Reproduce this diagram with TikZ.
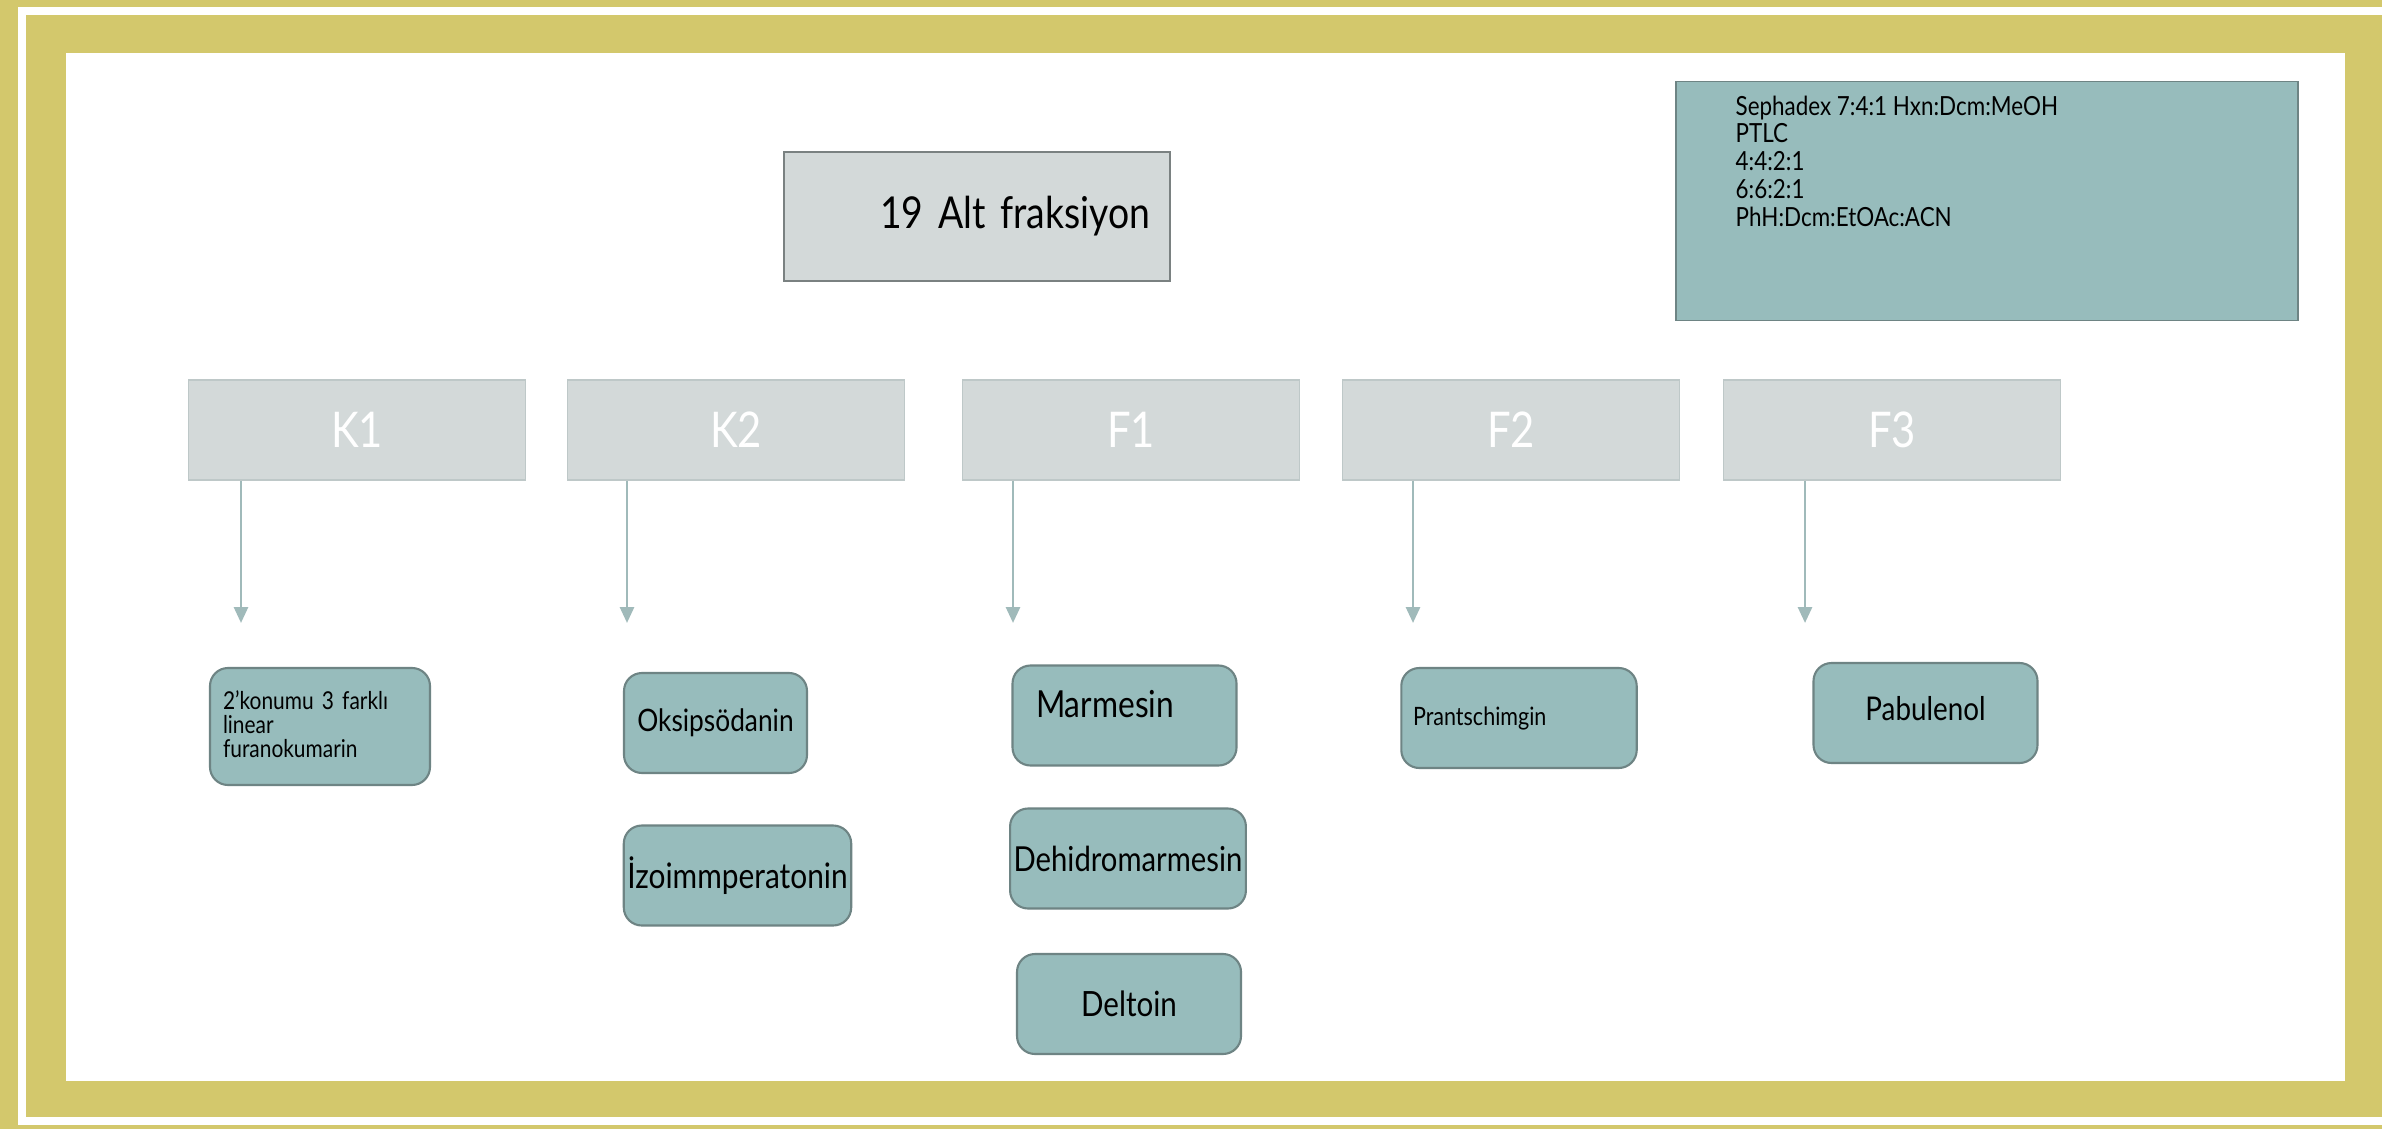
\documentclass[tikz,border=0pt]{standalone}
\usepackage{fontspec}
\setmainfont[FakeStretch=0.85]{Lato}
\usetikzlibrary{arrows.meta}

\definecolor{framecol}{RGB}{211,200,108}
\definecolor{lightbox}{RGB}{211,217,217}
\definecolor{lightline}{RGB}{190,200,200}
\definecolor{tealbox}{RGB}{151,188,188}
\definecolor{tealline}{RGB}{110,132,132}
\definecolor{arrowcol}{RGB}{160,186,186}

\begin{document}
\begin{tikzpicture}[y=-1cm,
  fraction/.style={fill=lightbox, draw=lightline, minimum width=3.37cm, minimum height=1cm,
    text=white, font=\fontsize{14}{16}\selectfont},
  compound/.style={fill=tealbox, draw=tealline, line width=0.6pt, rounded corners=0.18cm,
    minimum width=2.24cm, minimum height=1cm, font=\fontsize{10.6}{12}\selectfont},
  arr/.style={draw=arrowcol, line width=0.8pt, -{Triangle[width=0.14cm,length=0.16cm]}}]

\useasboundingbox (0,0) rectangle (23.82,11.29);
\clip (0,0) rectangle (23.82,11.29);

\fill[framecol] (0,0) rectangle (23.82,11.29);
\draw[white, line width=0.08cm] (0.22,0.11) rectangle (24.5,11.21);
\fill[white] (0.66,0.53) rectangle (23.45,10.81);

\node[fill=lightbox, draw=gray!70!tealline, minimum width=3.86cm, minimum height=1.29cm,
  text width=3.46cm, align=right, font=\fontsize{12.5}{15}\selectfont] (alt) at (9.77,2.165)
  {19 Alt fraksiyon};

\node[fill=tealbox, draw=tealline, minimum width=6.22cm, minimum height=2.39cm] (solvent) at (19.87,2.01) {};
\node[anchor=north west, inner sep=0pt, align=left, font=\fontsize{7.5}{7.9}\selectfont]
  (solventtxt) at (17.35,0.95)
  {Sephadex 7:4:1 Hxn:Dcm:MeOH\\PTLC\\4:4:2:1\\6:6:2:1\\PhH:Dcm:EtOAc:ACN};

\node[fraction] (k1) at (3.57,4.30) {K1};
\node[fraction] (k2) at (7.36,4.30) {K2};
\node[fraction] (f1) at (11.31,4.30) {F1};
\node[fraction] (f2) at (15.11,4.30) {F2};
\node[fraction] (f3) at (18.92,4.30) {F3};

\coordinate (k1tip) at (2.41,6.23);
\coordinate (k2tip) at (6.27,6.23);
\coordinate (f1tip) at (10.13,6.23);
\coordinate (f2tip) at (14.13,6.23);
\coordinate (f3tip) at (18.05,6.23);

\draw[arr] (k1.south -| k1tip) -- (k1tip);
\draw[arr] (k2.south -| k2tip) -- (k2tip);
\draw[arr] (f1.south -| f1tip) -- (f1tip);
\draw[arr] (f2.south -| f2tip) -- (f2tip);
\draw[arr] (f3.south -| f3tip) -- (f3tip);

\node[compound, minimum width=2.20cm, minimum height=1.17cm, text width=1.94cm, align=left,
  text depth=0.53cm, font=\fontsize{7}{6.9}\selectfont] (furano) at (3.20,7.265)
  {2’konumu 3 farklı\\linear\\furanokumarin};

\node[compound, minimum width=1.83cm, font=\fontsize{8.8}{10}\selectfont] (oksi) at (7.155,7.23) {Oksipsödanin};
\node[compound, minimum width=2.27cm, inner xsep=1pt, font=\fontsize{10}{12}\selectfont] (izo) at (7.375,8.755) {İzoimmperatonin};

\node[compound, text width=1.77cm, align=left, text depth=0.24cm] (marm) at (11.245,7.155) {Marmesin};
\node[compound, minimum width=2.29cm, inner xsep=1pt, font=\fontsize{9.8}{12}\selectfont] (dehid) at (11.28,8.585) {Dehidromarmesin};
\node[compound, font=\fontsize{9.9}{12}\selectfont] (delt) at (11.29,10.04) {Deltoin};

\node[compound, text width=2.12cm, align=left, font=\fontsize{7.2}{9}\selectfont] (prant) at (15.19,7.18) {Prantschimgin};
\node[compound, text depth=0.1cm, font=\fontsize{9.3}{11}\selectfont] (pabu) at (19.255,7.13) {Pabulenol};
\end{tikzpicture}
\end{document}
